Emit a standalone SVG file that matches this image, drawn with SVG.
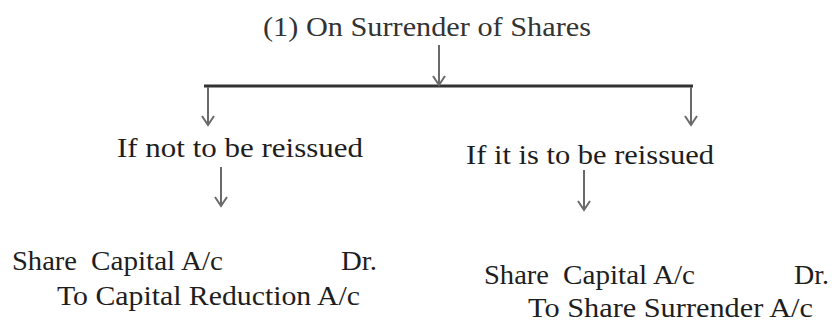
<svg xmlns="http://www.w3.org/2000/svg" width="832" height="322" viewBox="0 0 832 322">
<defs>
<style>
text{font-family:"Liberation Serif","DejaVu Serif",serif;font-size:28px;fill:#1e1e1e}
.title{fill:#333}
.arr{stroke:#6a6a6a;stroke-width:2;fill:none}
.bar{stroke:#333;stroke-width:3;fill:none}
</style>
</defs>
<rect width="832" height="322" fill="#fff"/>
<g id="connectors">
<line class="bar" x1="204" y1="86" x2="693" y2="86"/>
<path class="arr" d="M439,45 V85 M433,76 L439,85 L445,76"/>
<path class="arr" d="M208,87 V125 M202,116 L208,125 L214,116"/>
<path class="arr" d="M691,87 V125 M685,116 L691,125 L697,116"/>
<path class="arr" d="M221,167 V206 M215,197 L221,206 L227,197"/>
<path class="arr" d="M584,170 V210 M578,201 L584,210 L590,201"/>
</g>
<g id="title">
<text class="title" x="263" y="36" textLength="328" lengthAdjust="spacingAndGlyphs">(1) On Surrender of Shares</text>
</g>
<g id="not-reissued">
<text x="117" y="157" textLength="246" lengthAdjust="spacingAndGlyphs">If not to be reissued</text>
</g>
<g id="reissued">
<text x="466" y="164" textLength="248" lengthAdjust="spacingAndGlyphs">If it is to be reissued</text>
</g>
<g id="entry-left">
<text x="12" y="270" textLength="65" lengthAdjust="spacingAndGlyphs">Share</text>
<text x="91" y="270" textLength="132" lengthAdjust="spacingAndGlyphs">Capital A/c</text>
<text x="341" y="270" textLength="36" lengthAdjust="spacingAndGlyphs">Dr.</text>
<text x="57" y="305" textLength="303" lengthAdjust="spacingAndGlyphs">To Capital Reduction A/c</text>
</g>
<g id="entry-right">
<text x="484" y="284" textLength="65" lengthAdjust="spacingAndGlyphs">Share</text>
<text x="563" y="284" textLength="132" lengthAdjust="spacingAndGlyphs">Capital A/c</text>
<text x="794" y="284" textLength="35" lengthAdjust="spacingAndGlyphs">Dr.</text>
<text x="528" y="317" textLength="285" lengthAdjust="spacingAndGlyphs">To Share Surrender A/c</text>
</g>
</svg>
